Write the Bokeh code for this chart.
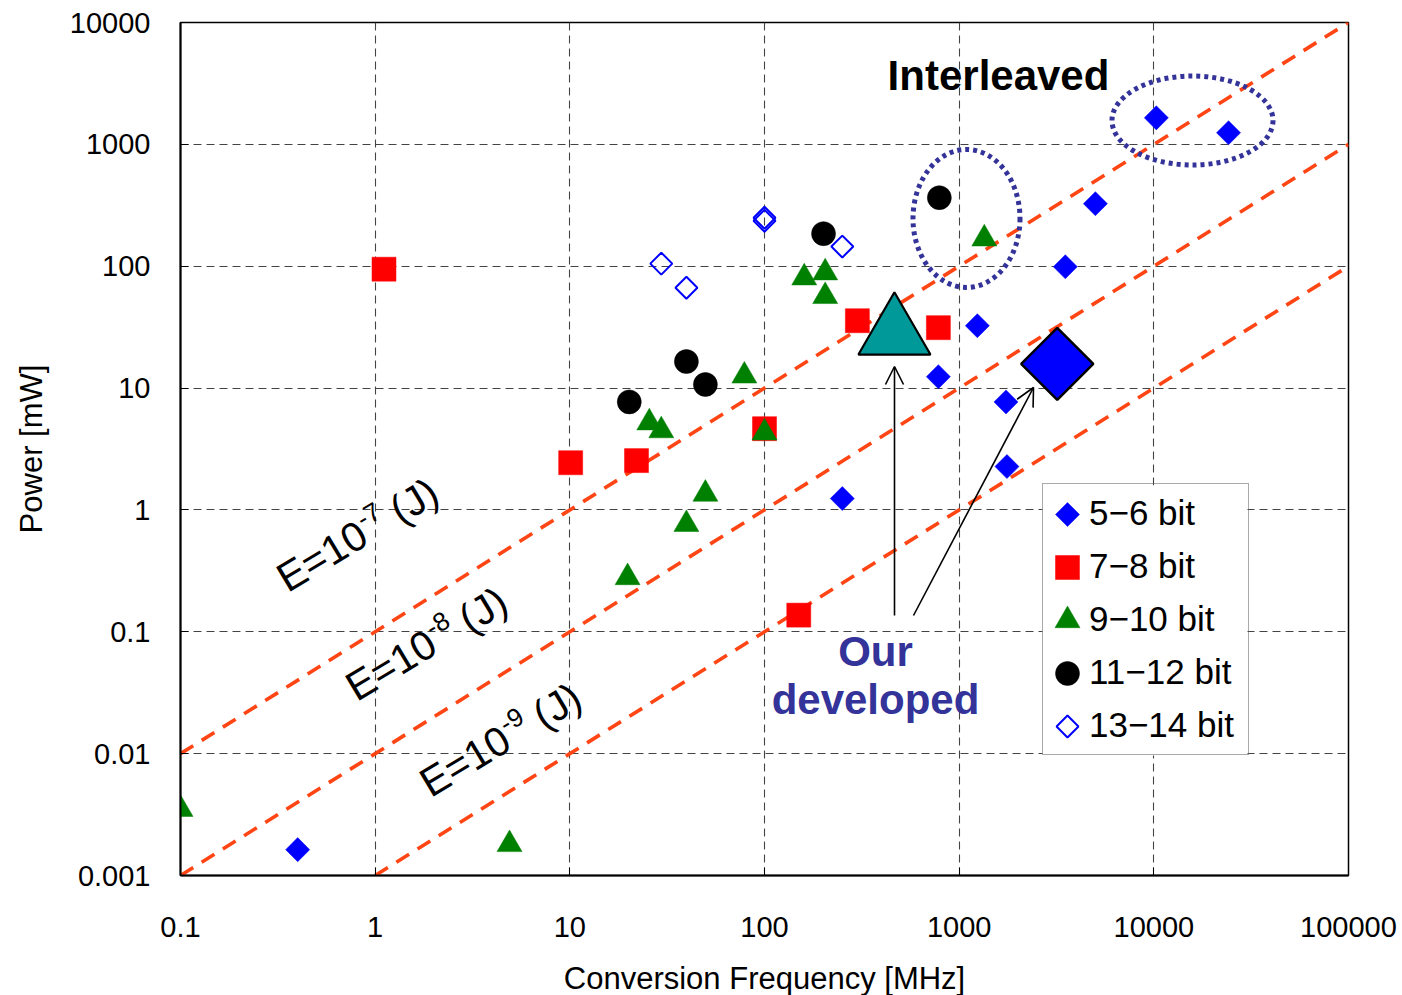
import numpy as np
from bokeh.plotting import figure
from bokeh.models import FixedTicker, Legend, LegendItem, Arrow, OpenHead, Range1d
from bokeh.core.properties import value
from bokeh.embed import file_html
from bokeh.resources import INLINE

# ---------------- data ----------------
f_56 = [0.40, 251, 782, 1240, 1740, 1760, 3510, 5010, 10300, 24200]
p_56 = [0.00163, 1.24, 12.4, 32.5, 7.7, 2.27, 99, 326, 1650, 1245]

f_78 = [1.11, 10.1, 22, 100, 150, 300, 782]
p_78 = [94.5, 2.44, 2.54, 4.64, 0.137, 35.7, 31.3]

f_910 = [0.1, 4.9, 19.8, 25.6, 29.5, 39.7, 49.7, 78.8, 100, 160, 205, 205, 1346]
p_910 = [0.0035, 0.0018, 0.279, 5.2, 4.48, 0.762, 1.35, 12.6, 4.3, 80.5, 88.5, 56.6, 168]

f_1112 = [20.2, 39.7, 49.7, 201, 791]
p_1112 = [7.7, 16.5, 10.7, 185, 365]

f_1314 = [29.5, 39.7, 100, 100, 251]
p_1314 = [105, 66.6, 250, 236, 145]

ours_tri_f = [465]
ours_tri_p = [27.9]
ours_dia_f = [3190]
ours_dia_p = [15.8]

energies = [1e-7, 1e-8, 1e-9]
energy_exponents = ["-7", "-8", "-9"]

series_labels = ["5\u22126 bit", "7\u22128 bit", "9\u221210 bit", "11\u221212 bit", "13\u221214 bit"]

x_ticks = [0.1, 1, 10, 100, 1000, 10000, 100000]
x_tick_labels = ["0.1", "1", "10", "100", "1000", "10000", "100000"]
y_ticks = [0.001, 0.01, 0.1, 1, 10, 100, 1000, 10000]
y_tick_labels = ["0.001", "0.01", "0.1", "1", "10", "100", "1000", "10000"]

X_MIN, X_MAX = 0.1, 1e5
Y_MIN, Y_MAX = 1e-3, 1e4

# ---------------- layout geometry ----------------
FL, FT, FW, FH = 180, 22, 1168, 853
FONT = "Liberation Sans"
BASE_SHIFT = 0.38  # bokeh draws the alphabetic baseline this many em lower


def data_at(px, py):
    """page pixel -> data coords (used for annotation placement only)"""
    fx = 10 ** (np.log10(X_MIN) + (np.log10(X_MAX) - np.log10(X_MIN)) * (px - FL) / FW)
    fy = 10 ** (np.log10(Y_MIN) + (np.log10(Y_MAX) - np.log10(Y_MIN)) * (FT + FH - py) / FH)
    return fx, fy


p = figure(x_axis_type="log", y_axis_type="log",
           x_range=Range1d(X_MIN, X_MAX), y_range=Range1d(Y_MIN, Y_MAX),
           frame_width=FW, frame_height=FH,
           min_border_left=FL, min_border_right=1402 - FL - FW,
           min_border_top=FT, min_border_bottom=995 - FT - FH,
           output_backend="svg", toolbar_location=None, title=None)
p.background_fill_color = "white"
p.border_fill_color = "white"
p.outline_line_color = "black"
p.outline_line_width = 1.5

for ax, ticks, labels in ((p.xaxis[0], x_ticks, x_tick_labels), (p.yaxis[0], y_ticks, y_tick_labels)):
    ax.ticker = FixedTicker(ticks=ticks)
    ax.major_label_overrides = {t: l for t, l in zip(ticks, labels)}
    ax.major_label_text_font = FONT
    ax.major_label_text_font_size = "29px"
    ax.major_label_text_color = "black"
    ax.minor_tick_line_color = None
    ax.major_tick_in = 8
    ax.major_tick_out = 0
    ax.major_tick_line_color = "black"
    ax.axis_line_color = "black"
    ax.axis_line_width = 2
    ax.axis_label_text_font = FONT
    ax.axis_label_text_font_size = "31px"
    ax.axis_label_text_font_style = "normal"
    ax.axis_label_text_color = "black"

p.xaxis.axis_label = "Conversion Frequency [MHz]"
p.yaxis.axis_label = "Power [mW]"
p.xaxis.major_label_standoff = 41
p.yaxis.major_label_standoff = 30
p.xaxis.axis_label_standoff = 21
p.yaxis.axis_label_standoff = 18

for g in (p.xgrid[0], p.ygrid[0]):
    g.grid_line_color = "#444444"
    g.grid_line_width = 1.1
    g.grid_line_dash = "8 5"

# ---------------- energy lines ----------------
for E in energies:
    k = E * 1e6  # mW per MHz
    f0 = max(X_MIN, Y_MIN / k)
    f1 = X_MAX
    p.line([f0, f1], [k * f0, k * f1], line_color="#ff4514", line_width=3.6,
           line_dash="15 10")

# ---------------- data points ----------------
styles = [
    dict(marker="square", size=17, angle=np.pi / 4, fill_color="#0000ff", line_color="#0000ff", line_width=0.5),
    dict(marker="square", size=24, angle=0, fill_color="#ff0000", line_color="#ff0000", line_width=0.5),
    dict(marker="triangle", size=25, angle=0, fill_color="#008000", line_color="#008000", line_width=0.5),
    dict(marker="circle", size=24, angle=0, fill_color="black", line_color="black", line_width=0.5),
    dict(marker="square", size=15.5, angle=np.pi / 4, fill_alpha=0, line_color="#0000ff", line_width=2),
]
series = [(f_56, p_56), (f_78, p_78), (f_910, p_910), (f_1112, p_1112), (f_1314, p_1314)]
renderers = [p.scatter(fx, py, **st) for (fx, py), st in zip(series, styles)]

p.scatter(ours_tri_f, ours_tri_p, marker="triangle", size=72,
          fill_color="#009999", line_color="black", line_width=2.2)
p.scatter(ours_dia_f, ours_dia_p, marker="square", size=51, angle=np.pi / 4,
          fill_color="#0000ff", line_color="black", line_width=2.5)

# ---------------- interleaved ellipses ----------------
ex1, ey1 = data_at(966, 218)
ex2, ey2 = data_at(1192, 120)
p.ellipse(x=[ex1, ex2], y=[ey1, ey2], width=[107, 161], height=[138, 89],
          width_units="screen", height_units="screen",
          fill_alpha=0, line_color="#333399", line_width=5, line_dash="4 4")

# ---------------- arrows ----------------
for (sx0, sy0, sx1, sy1) in ((894, 615, 894, 366), (913, 615, 1033, 387)):
    xs, ys = data_at(sx0, sy0)
    xe, ye = data_at(sx1, sy1)
    p.add_layout(Arrow(end=OpenHead(size=18, line_width=1.6, line_color="black"),
                       x_start=xs, y_start=ys, x_end=xe, y_end=ye,
                       line_width=1.6, line_color="black"))

# ---------------- texts ----------------
TF = 42
ix, iy = data_at(998, 91 - BASE_SHIFT * TF)
p.text([ix], [iy], text=["Interleaved"], text_font=value(FONT), text_font_size=f"{TF}px",
       text_font_style="bold", text_color="black", text_align="center",
       text_baseline="alphabetic")

ox, oy1 = data_at(875, 667 - BASE_SHIFT * TF)
_, oy2 = data_at(875, 715 - BASE_SHIFT * TF)
p.text([ox, ox], [oy1, oy2], text=["Our", "developed"], text_font=value(FONT),
       text_font_size=f"{TF}px", text_font_style="bold", text_color="#333399",
       text_align="center", text_baseline="alphabetic")

theta = np.deg2rad(31)
dx, dy = np.cos(theta), -np.sin(theta)
ux, uy = -np.sin(theta), -np.cos(theta)
F = 41
FS = 26
w_main = 2.363 * F
w_sup = 0.889 * FS
anchors = [(288, 594), (357, 703), (431, 799)]
main_x, main_y, main_t = [], [], []
sup_x, sup_y, sup_t = [], [], []
for (axp, ayp), ex in zip(anchors, energy_exponents):
    x0, y0 = data_at(axp + BASE_SHIFT * F * ux, ayp + BASE_SHIFT * F * uy)
    main_x.append(x0); main_y.append(y0); main_t.append("E=10")
    along = w_main + 1
    up = 0.42 * F + BASE_SHIFT * FS
    x1, y1 = data_at(axp + along * dx + up * ux, ayp + along * dy + up * uy)
    sup_x.append(x1); sup_y.append(y1); sup_t.append(ex)
    along = w_main + w_sup + 12
    up = BASE_SHIFT * F
    x2, y2 = data_at(axp + along * dx + up * ux, ayp + along * dy + up * uy)
    main_x.append(x2); main_y.append(y2); main_t.append(" (J)")

p.text(main_x, main_y, text=main_t, angle=theta, text_font=value(FONT),
       text_font_size=f"{F}px", text_color="black", text_align="left",
       text_baseline="alphabetic")
p.text(sup_x, sup_y, text=sup_t, angle=theta, text_font=value(FONT),
       text_font_size=f"{FS}px", text_color="black", text_align="left",
       text_baseline="alphabetic")

# ---------------- legend ----------------
LEG_LEFT, LEG_TOP, PAD, ROW, GAP = 1042, 485, 4, 50, 3
GLW, STANDOFF, LABW = 42, 0, 155
n_items = len(series_labels)
leg_h = 2 * PAD + n_items * ROW + (n_items - 1) * GAP
leg_w = 2 * PAD + GLW + STANDOFF + LABW

# white backing for the (transparent) legend box, hides the grid
bl, bt = data_at(LEG_LEFT, LEG_TOP)
br, bb = data_at(LEG_LEFT + leg_w, LEG_TOP + leg_h)
p.quad(left=[bl], right=[br], top=[bt], bottom=[bb], fill_color="white", line_alpha=0)

# legend swatches (same marker styles as the series)
for i, st in enumerate(styles):
    sx_, sy_ = data_at(1067, LEG_TOP + PAD + ROW / 2 + i * (ROW + GAP))
    p.scatter([sx_], [sy_], **st)

legend = Legend(items=[LegendItem(label=l, renderers=[r]) for l, r in zip(series_labels, renderers)],
                location=(LEG_LEFT - FL, FT + FH - LEG_TOP - leg_h), orientation="vertical",
                glyph_width=GLW, glyph_height=0, label_height=ROW, label_width=LABW,
                spacing=GAP, padding=PAD, label_standoff=STANDOFF,
                label_text_font=FONT, label_text_font_size="35px",
                label_text_color="black", label_text_baseline="middle",
                border_line_color="#555555", border_line_width=1.5,
                background_fill_alpha=0.0)
p.add_layout(legend)

open("out.html", "w").write(file_html(p, INLINE))
